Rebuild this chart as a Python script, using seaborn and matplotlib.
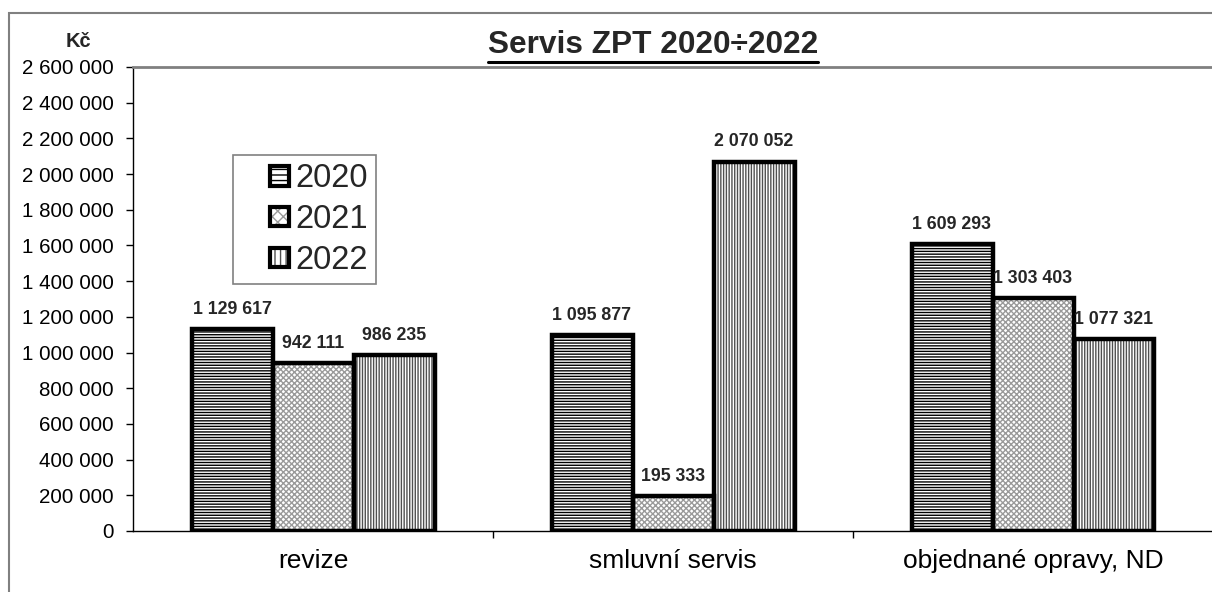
import pandas as pd
import seaborn as sns
import matplotlib.pyplot as plt
from matplotlib.patches import Patch, Rectangle
from matplotlib.lines import Line2D
from matplotlib.ticker import MultipleLocator, FuncFormatter
from matplotlib.legend_handler import HandlerTuple, HandlerPatch

# data
categories = ["revize", "smluvní servis", "objednané opravy, ND"]
years = ["2020", "2021", "2022"]
v2020 = [1129617, 1095877, 1609293]
v2021 = [942111, 195333, 1303403]
v2022 = [986235, 2070052, 1077321]

df = pd.DataFrame({
    "kategorie": categories * 3,
    "rok": [y for y in years for _ in categories],
    "Kc": v2020 + v2021 + v2022,
})

hatches = ["------", "xxxxxx", "||||||"]
hatch_colors = ["#000000", "#9a9a9a", "#505050"]


def fmt(v, pos=None):
    return f"{int(v):,}".replace(",", " ")


def square(legend, orig_handle, xdescent, ydescent, width, height, fontsize):
    # small square at the right end of the handle box (Excel style)
    s = 0.6 * fontsize
    return Rectangle((width - s - xdescent, (height - s) / 2 - ydescent), s, s)


sns.set_theme(style="white")
plt.rcParams["font.family"] = ["Liberation Sans", "DejaVu Sans"]
plt.rcParams["hatch.linewidth"] = 1.0

fig = plt.figure(figsize=(12.12, 5.92), dpi=100)
ax = fig.add_axes([133 / 1212, 61 / 592, 1080 / 1212, 464 / 592])

# hatched fill
sns.barplot(data=df, x="kategorie", y="Kc", hue="rok", order=categories,
            hue_order=years, palette=["white"] * 3, width=0.675, gap=0,
            linewidth=0, legend=False, ax=ax)
for cont, h, hc in zip(ax.containers, hatches, hatch_colors):
    for bar in cont:
        bar.set_hatch(h)
        bar.set_edgecolor(hc)
        bar.set_linewidth(0)

# thick black outlines
sns.barplot(data=df, x="kategorie", y="Kc", hue="rok", order=categories,
            hue_order=years, palette=["black"] * 3, width=0.675, gap=0,
            fill=False, linewidth=3.2, legend=False, ax=ax)

for cont in ax.containers[3:]:
    ax.bar_label(cont, labels=[fmt(b.get_height()) for b in cont],
                 padding=8, fontsize=12.8, fontweight="bold")

ax.set_xlim(-0.5, 2.5)
ax.set_ylim(0, 2600000)
ax.yaxis.set_major_locator(MultipleLocator(200000))
ax.yaxis.set_major_formatter(FuncFormatter(fmt))
ax.set_xticks([0.5, 1.5, 2.5], minor=True)
ax.tick_params(axis="x", which="major", length=0, pad=13, labelsize=19,
               labelcolor="black")
ax.tick_params(axis="x", which="minor", length=5, width=1, color="black",
               direction="out", bottom=True)
ax.tick_params(axis="y", length=5, width=1, color="black", direction="out",
               left=True, pad=9, labelsize=14.8, labelcolor="black")
ax.set_xlabel("")
ax.set_ylabel("")
for side in ["left", "bottom"]:
    ax.spines[side].set_color("black")
    ax.spines[side].set_linewidth(1)
ax.spines["top"].set_color("#808080")
ax.spines["top"].set_linewidth(2)
ax.spines["right"].set_color("#808080")

# legend with hatch + black border squares
handles = []
for h, hc in zip(hatches, hatch_colors):
    handles.append((Patch(facecolor="white", edgecolor=hc, hatch=h[:3], linewidth=0),
                    Patch(fill=False, edgecolor="black", linewidth=3)))
leg = ax.legend(handles, years,
                handler_map={tuple: HandlerTuple(ndivide=1),
                             Patch: HandlerPatch(patch_func=square)},
                loc="upper left", bbox_to_anchor=(0.0926, 0.81), borderaxespad=0,
                fontsize=23.5, handlelength=1.47, handleheight=0.6,
                handletextpad=0.2, labelspacing=0.3, borderpad=0.25,
                frameon=True, fancybox=False, edgecolor="#808080", framealpha=1)
leg.get_frame().set_linewidth(1.2)

# title, underlined
title = fig.text(653 / 1212, (592 - 53) / 592, "Servis ZPT 2020÷2022",
                 ha="center", va="baseline", fontsize=22.8, fontweight="bold")
fig.text(78 / 1212, (592 - 47) / 592, "Kč", ha="center", va="baseline",
         fontsize=14.5, fontweight="bold")

fig.canvas.draw()
bb = title.get_window_extent().transformed(fig.transFigure.inverted())
uy = (592 - 62) / 592
fig.add_artist(Line2D([bb.x0, bb.x1], [uy, uy], transform=fig.transFigure,
                      color="black", linewidth=2.2))

# outer chart border
fig.add_artist(Rectangle((9 / 1212, -0.1), 1.2, (592 - 13) / 592 + 0.1,
                         transform=fig.transFigure, fill=False,
                         edgecolor="#808080", linewidth=1.5))

fig.savefig("out.png", dpi=100)
